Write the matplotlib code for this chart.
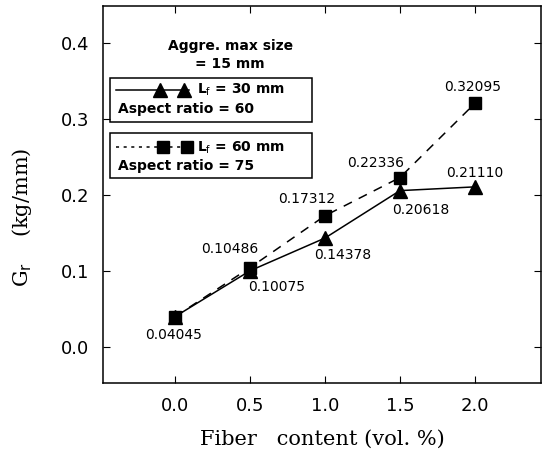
import matplotlib
matplotlib.use("Agg")
import matplotlib.pyplot as plt
from matplotlib.patches import Rectangle

# data
fiber = [0.0, 0.5, 1.0, 1.5, 2.0]
gr_30mm = [0.04045, 0.10075, 0.14378, 0.20618, 0.21110]
gr_60mm = [0.04045, 0.10486, 0.17312, 0.22336, 0.32095]
xticks = [0.0, 0.5, 1.0, 1.5, 2.0]
yticks = [0.0, 0.1, 0.2, 0.3, 0.4]

# label offsets in pixels (dx right, dy down)
off_30 = [(-2, 18), (27, 16), (18, 17), (21, 19), (0, -14)]
off_60 = [None, (-20, -19), (-18, -17), (-24, -15), (-2, -16)]

sans = "DejaVu Sans"
serif = "DejaVu Serif"

fig = plt.figure(figsize=(5.43, 4.66), dpi=100)
ax = fig.add_axes([0.190, 0.178, 0.806, 0.809])

ax.plot(fiber, gr_30mm, color="black", lw=1.1, marker="^", ms=10)
ax.plot(fiber, gr_60mm, color="black", lw=1.1, ls=(0, (6, 5)), marker="s", ms=8.5)

def label(xs, ys, offs):
    for x, y, o in zip(xs, ys, offs):
        if o is None:
            continue
        ax.annotate("%.5f" % y, (x, y), xytext=(o[0] * 0.72, -o[1] * 0.72),
                    textcoords="offset points", ha="center", va="center",
                    fontsize=10, family=sans)

label(fiber, gr_30mm, off_30)
label(fiber, gr_60mm, off_60)

ax.set_xlim(-0.48, 2.44)
ax.set_ylim(-0.047, 0.449)
ax.set_xticks(xticks)
ax.set_yticks(yticks)
ax.set_xticklabels(["%.1f" % t for t in xticks], family=sans, fontsize=13)
ax.set_yticklabels(["%.1f" % t for t in yticks], family=sans, fontsize=13)
ax.tick_params(direction="in", length=5, width=0.8, top=True, right=True, pad=10)
for s in ax.spines.values():
    s.set_linewidth(1.1)

ax.set_xlabel("Fiber   content (vol. %)", family=serif, fontsize=15)
ax.set_ylabel("G$_{\\rm r}$    (kg/mm)", family=serif, fontsize=15)
ax.xaxis.set_label_coords(0.5, -0.125)
ax.yaxis.set_label_coords(-0.158, 0.44)

# inset legend
tr = ax.transAxes
ax.text(0.29, 0.894, "Aggre. max size", transform=tr, ha="center", va="center",
        fontsize=10, family=sans, fontweight="bold")
ax.text(0.29, 0.846, "= 15 mm", transform=tr, ha="center", va="center",
        fontsize=10, family=sans, fontweight="bold")

ax.add_patch(Rectangle((0.016, 0.692), 0.461, 0.117, transform=tr, fill=False, lw=1.1))
ax.add_patch(Rectangle((0.016, 0.544), 0.461, 0.119, transform=tr, fill=False, lw=1.1))

ax.plot([0.03, 0.195], [0.777, 0.777], transform=tr, color="black", lw=1.1)
ax.plot([0.13, 0.185], [0.777, 0.777], transform=tr, ls="none", marker="^",
        ms=10, color="black")
ax.text(0.215, 0.777, "L$_{\\rm f}$ = 30 mm", transform=tr, va="center",
        fontsize=10, family=sans, fontweight="bold")
ax.text(0.035, 0.726, "Aspect ratio = 60", transform=tr, va="center",
        fontsize=10, family=sans, fontweight="bold")

ax.plot([0.03, 0.205], [0.625, 0.625], transform=tr, color="black", lw=1.1, ls=(0, (2, 3)))
ax.plot([0.137, 0.192], [0.625, 0.625], transform=tr, ls="none", marker="s",
        ms=8.5, color="black")
ax.text(0.215, 0.625, "L$_{\\rm f}$ = 60 mm", transform=tr, va="center",
        fontsize=10, family=sans, fontweight="bold")
ax.text(0.035, 0.575, "Aspect ratio = 75", transform=tr, va="center",
        fontsize=10, family=sans, fontweight="bold")

fig.savefig("out.png", dpi=100)
